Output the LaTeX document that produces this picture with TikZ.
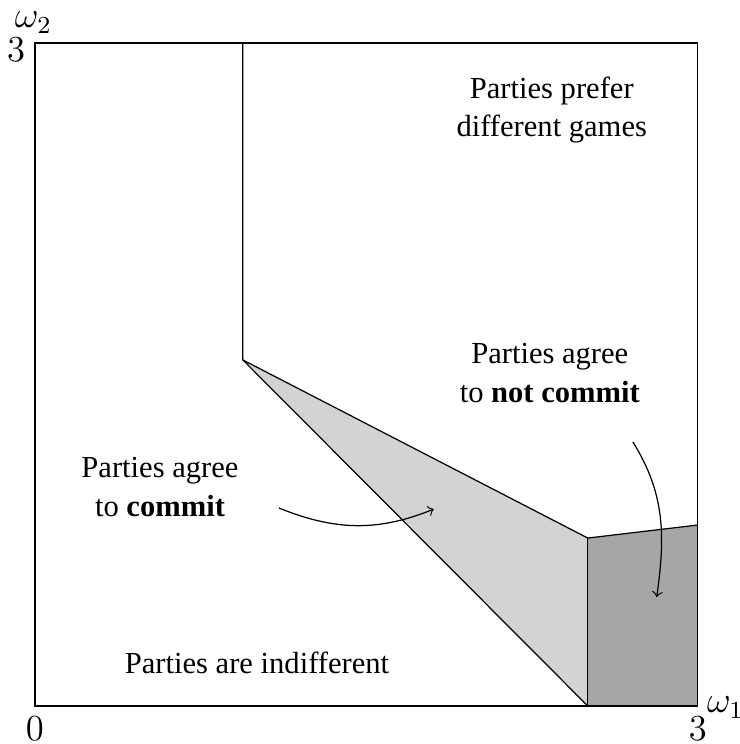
\documentclass[tikz,border=0pt]{standalone}
\usepackage{fontspec}
\setmainfont{Liberation Serif}
\definecolor{lightregion}{RGB}{211,211,211}
\definecolor{darkregion}{RGB}{166,166,166}
\begin{document}
\begin{tikzpicture}[x=1in,y=1in,
  label/.style={align=center,font=\fontsize{10}{12.5}\selectfont},
  axislabel/.style={font=\large},
  edge/.style={draw=black,line width=0.4pt},
  pointer/.style={->,line width=0.4pt}]
\useasboundingbox (-0.158,-0.172) rectangle (3.190,3.195);
\coordinate (O) at (0,0);
\coordinate (X) at (3,0);
\coordinate (Y) at (0,3);
\coordinate (TR) at (3,3);
\coordinate (K) at (0.941,1.566);
\coordinate (KT) at (0.941,3);
\coordinate (M) at (2.502,0.760);
\coordinate (MB) at (2.502,0);
\coordinate (R) at (3,0.819);
% regions
\fill[lightregion] (K) -- (M) -- (MB) -- cycle;
\fill[darkregion] (M) -- (R) -- (X) -- (MB) -- cycle;
\draw[edge] (O) rectangle (TR);
\draw[edge] (KT) -- (K) -- (M) -- (R);
\draw[edge] (K) -- (MB);
\draw[edge] (M) -- (MB);
% axis labels
\node[axislabel,anchor=east,inner sep=3pt] (y3) at ([yshift=-2pt]Y) {$3$};
\node[axislabel,anchor=south,inner sep=3pt] (w2) at ([xshift=-0.5pt]Y) {$\omega_2$};
\node[axislabel,anchor=north,inner sep=3.5pt] (x0) at (O) {$0$};
\node[axislabel,anchor=north,inner sep=3.5pt] (x3) at (X) {$3$};
\node[axislabel,anchor=west,inner sep=2.8pt] (w1) at ([yshift=-0.5pt]X) {$\omega_1$};
% region labels
\node[label] (diff) at (2.339,2.697) {Parties prefer\\different games};
\node[label] (notc) at (2.33,1.507) {Parties agree\\to \textbf{not commit}};
\node[label] (comm) at (0.566,0.991) {Parties agree\\to \textbf{commit}};
\node[label] (indi) at (1.005,0.195) {Parties are indifferent};
% pointers
\coordinate (a1s) at (1.104,0.896);
\coordinate (a1e) at (1.805,0.891);
\coordinate (a2s) at (2.706,1.195);
\coordinate (a2e) at (2.814,0.493);
\draw[pointer] (a1s) to[out=-22,in=202] (a1e);
\draw[pointer] (a2s) to[out=-58,in=82] (a2e);
\end{tikzpicture}
\end{document}
